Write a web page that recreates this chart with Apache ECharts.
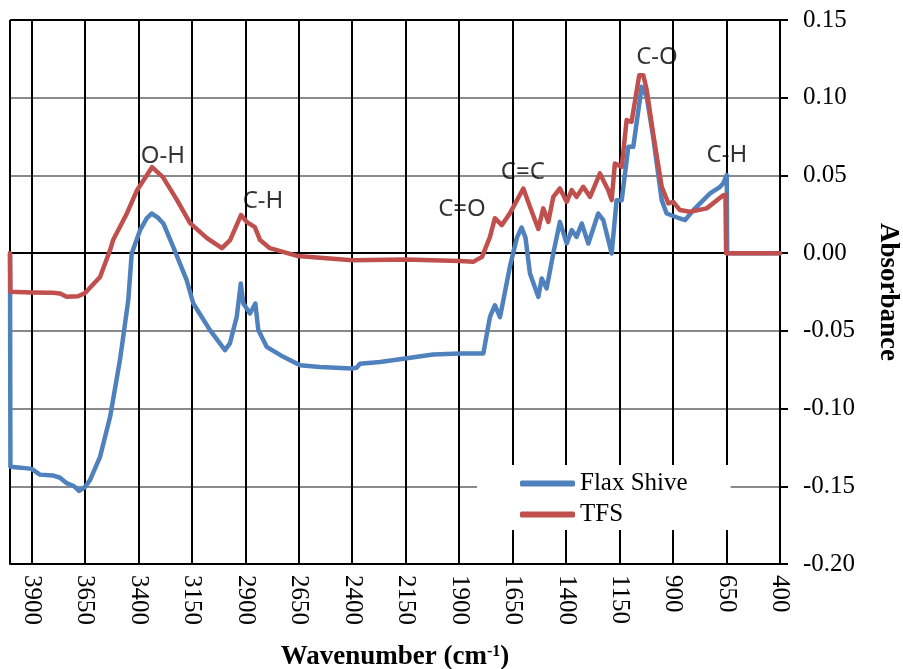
<!DOCTYPE html>
<html>
<head>
<meta charset="utf-8">
<title>FTIR spectra</title>
<script src="https://cdn.jsdelivr.net/npm/echarts@6/dist/echarts.min.js"></script>
<style>
  html, body { margin: 0; padding: 0; background: #fff; }
  #chart { width: 903px; height: 669px; }
</style>
</head>
<body>
<div id="chart"></div>
<script>
// FTIR absorbance spectra, wavenumber in cm-1
const flaxWavenumber = [4000, 3998, 3950, 3899, 3860, 3800, 3766, 3735, 3700, 3677, 3650, 3626, 3579, 3532, 3486, 3447, 3431, 3392, 3360, 3338, 3310, 3283, 3237, 3174, 3143, 3065, 2995, 2972, 2940, 2921, 2909, 2878, 2853, 2839, 2800, 2722, 2644, 2551, 2403, 2380, 2364, 2270, 2153, 2022, 1896, 1787, 1756, 1733, 1709, 1663, 1630, 1608, 1590, 1569, 1530, 1514, 1491, 1460, 1429, 1397, 1374, 1351, 1327, 1296, 1250, 1226, 1187, 1164, 1140, 1109, 1086, 1047, 1023, 993, 953, 930, 868, 844, 805, 727, 680, 665, 649, 647, 400];
const flaxAbsorbance = [0, -0.1375, -0.1380, -0.1388, -0.1425, -0.1430, -0.1445, -0.1480, -0.1500, -0.1530, -0.1505, -0.1460, -0.1311, -0.1053, -0.0689, -0.0302, -0.0002, 0.0148, 0.0225, 0.0255, 0.0230, 0.0191, 0.0041, -0.0174, -0.0324, -0.0495, -0.0624, -0.0581, -0.0410, -0.0195, -0.0324, -0.0388, -0.0324, -0.0495, -0.0603, -0.0667, -0.0721, -0.0732, -0.0742, -0.0738, -0.0712, -0.0700, -0.0678, -0.0652, -0.0645, -0.0645, -0.0410, -0.0335, -0.0412, -0.0088, 0.0100, 0.0165, 0.0100, -0.0131, -0.0281, -0.0163, -0.0227, -0.0002, 0.0201, 0.0062, 0.0148, 0.0105, 0.0191, 0.0062, 0.0255, 0.0212, -0.0002, 0.0341, 0.0341, 0.0684, 0.0684, 0.1070, 0.1006, 0.0748, 0.0341, 0.0255, 0.0223, 0.0212, 0.0277, 0.0384, 0.0427, 0.0450, 0.0502, 0, 0];

const tfsWavenumber = [4000, 3998, 3899, 3800, 3766, 3735, 3682, 3649, 3579, 3532, 3518, 3453, 3406, 3336, 3285, 3219, 3158, 3079, 3009, 2971, 2920, 2892, 2855, 2831, 2785, 2654, 2401, 2153, 1896, 1835, 1793, 1756, 1733, 1701, 1663, 1600, 1569, 1530, 1507, 1483, 1460, 1429, 1397, 1374, 1351, 1320, 1288, 1242, 1203, 1187, 1172, 1140, 1117, 1094, 1058, 1039, 1023, 993, 953, 922, 899, 868, 821, 743, 665, 655, 652, 400];
const tfsAbsorbance = [0, -0.0249, -0.0253, -0.0255, -0.0259, -0.0281, -0.0277, -0.0257, -0.0153, 0.0020, 0.0084, 0.0257, 0.0405, 0.0553, 0.0489, 0.0341, 0.0193, 0.0097, 0.0032, 0.0084, 0.0245, 0.0199, 0.0167, 0.0084, 0.0032, -0.0019, -0.0045, -0.0041, -0.0051, -0.0056, -0.0024, 0.0105, 0.0225, 0.0180, 0.0256, 0.0416, 0.0298, 0.0155, 0.0288, 0.0201, 0.0362, 0.0416, 0.0330, 0.0405, 0.0362, 0.0427, 0.0362, 0.0513, 0.0405, 0.0341, 0.0577, 0.0555, 0.0856, 0.0845, 0.1145, 0.1145, 0.1049, 0.0770, 0.0427, 0.0320, 0.0330, 0.0277, 0.0266, 0.0288, 0.0373, 0.0375, 0, 0];

// band assignments and where their labels sit (wavenumber, absorbance)
const bandNames = ['O-H', 'C-H', 'C=O', 'C=C', 'C-O', 'C-H'];
const bandWavenumber = [3285, 2817, 1887, 1602, 975, 648];
const bandAbsorbance = [0.0624, 0.0335, 0.0283, 0.0521, 0.1261, 0.0631];

const seriesNames = ['Flax Shive', 'TFS'];
const yTicks = { min: -0.20, max: 0.15, step: 0.05 };
const xTicks = { min: 400, max: 4000, step: 250 };

const pairs = (xs, ys) => xs.map((x, i) => [x, ys[i]]);
const serif = '"Liberation Serif", "Times New Roman", serif';

const chart = echarts.init(document.getElementById('chart'), null, { renderer: 'canvas' });

const lineSeries = (name, xs, ys, color) => ({
  name: name,
  type: 'line',
  data: pairs(xs, ys),
  showSymbol: false,
  symbol: 'none',
  clip: true,
  lineStyle: { color: color, width: 4.5, cap: 'round', join: 'round' },
  itemStyle: { color: color },
  emphasis: { disabled: true },
  z: 3
});

chart.setOption({
  animation: false,
  backgroundColor: '#fff',
  grid: { left: 10, right: 123, top: 20, bottom: 105, containLabel: false, outerBoundsMode: 'none' },
  legend: {
    data: seriesNames,
    orient: 'vertical',
    left: 477,
    top: 465,
    backgroundColor: '#fff',
    padding: [6, 43, 3, 43],
    itemGap: 6,
    itemWidth: 55,
    itemHeight: 6,
    icon: 'roundRect',
    textStyle: { fontFamily: serif, fontSize: 25, color: '#000' },
    z: 10
  },
  xAxis: {
    type: 'value',
    inverse: true,
    min: xTicks.min,
    max: xTicks.max,
    interval: xTicks.step,
    name: 'Wavenumber (cm{sup|-1})',
    nameLocation: 'middle',
    nameGap: 80,
    nameTextStyle: {
      fontFamily: serif, fontSize: 27, fontWeight: 'bold', color: '#000',
      rich: { sup: { fontFamily: serif, fontSize: 16, fontWeight: 'bold', color: '#000', verticalAlign: 'top', padding: [0, 0, 11, 0] } }
    },
    axisLine: { show: true, onZero: false, lineStyle: { color: '#000', width: 2 } },
    axisTick: { show: false },
    axisLabel: {
      rotate: -90,
      margin: 11,
      fontFamily: serif,
      fontSize: 25,
      color: '#000',
      formatter: v => (v === xTicks.max ? '' : String(v))
    },
    splitLine: { show: true, lineStyle: { color: '#000', width: 2 } }
  },
  yAxis: {
    type: 'value',
    position: 'right',
    min: yTicks.min,
    max: yTicks.max,
    interval: yTicks.step,
    name: 'Absorbance',
    nameLocation: 'middle',
    nameRotate: -90,
    nameGap: 94,
    nameTextStyle: { fontFamily: serif, fontSize: 27, fontWeight: 'bold', color: '#000' },
    axisLine: { show: true, lineStyle: { color: '#000', width: 2 } },
    axisTick: { show: true, inside: false, length: 8, lineStyle: { color: '#000', width: 2 } },
    axisLabel: {
      margin: 23,
      fontFamily: serif,
      fontSize: 25,
      color: '#000',
      formatter: v => v.toFixed(2)
    },
    // bottom edge, zero line and top edge dark; the rest grey
    splitLine: {
      show: true,
      lineStyle: { color: ['#000', '#8a8a8a', '#8a8a8a', '#8a8a8a', '#000', '#8a8a8a', '#8a8a8a', '#000'], width: 2 }
    }
  },
  series: [
    lineSeries(seriesNames[0], flaxWavenumber, flaxAbsorbance, '#4F81BD'),
    lineSeries(seriesNames[1], tfsWavenumber, tfsAbsorbance, '#C0504D'),
    {
      name: 'bands',
      type: 'scatter',
      data: bandNames.map((n, i) => ({ name: n, value: [bandWavenumber[i], bandAbsorbance[i]] })),
      symbolSize: 1,
      itemStyle: { color: 'rgba(0,0,0,0)' },
      silent: true,
      z: 5,
      label: {
        show: true,
        position: 'inside',
        formatter: p => p.name,
        fontFamily: '"Noto Sans", "Open Sans", sans-serif',
        fontSize: 24,
        color: '#000'
      }
    }
  ]
});
</script>
</body>
</html>
